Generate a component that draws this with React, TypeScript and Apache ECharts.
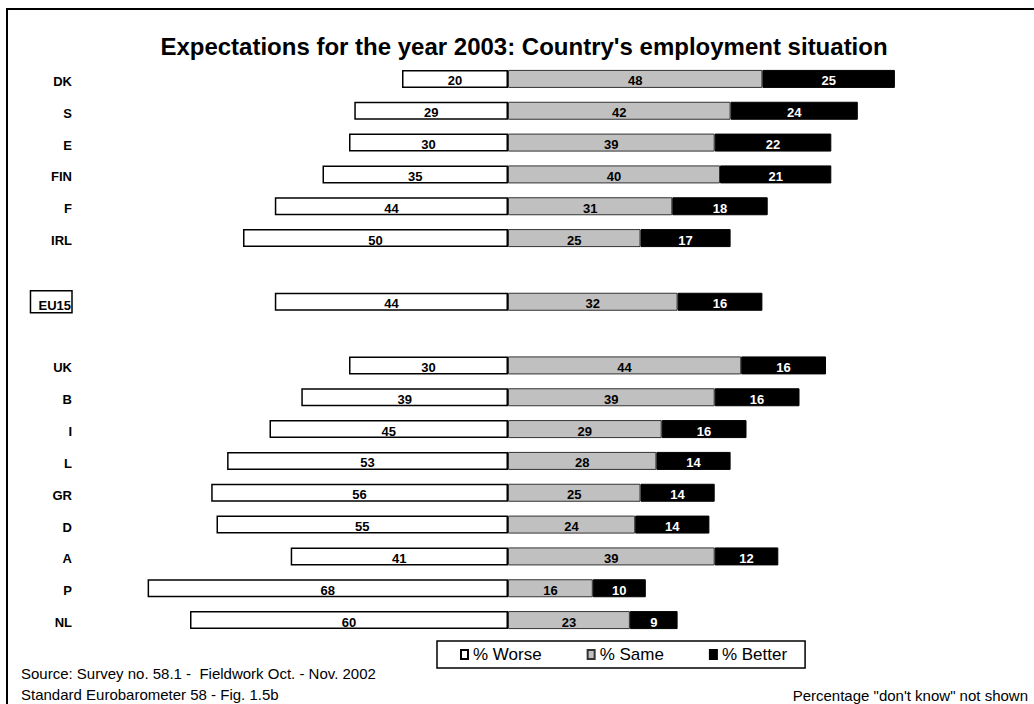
import React, { useEffect, useRef } from "react";
import * as echarts from "echarts";

const categories = ["DK", "S", "E", "FIN", "F", "IRL", "", "EU15", "", "UK", "B", "I", "L", "GR", "D", "A", "P", "NL"];
const worse = [20, 29, 30, 35, 44, 50, null, 44, null, 30, 39, 45, 53, 56, 55, 41, 68, 60];
const same = [48, 42, 39, 40, 31, 25, null, 32, null, 44, 39, 29, 28, 25, 24, 39, 16, 23];
const better = [25, 24, 22, 21, 18, 17, null, 16, null, 16, 16, 16, 14, 14, 14, 12, 10, 9];
const seriesNames = ["% Worse", "% Same", "% Better"];

const titleText = "Expectations for the year 2003: Country's employment situation";
const sourceText = "Source: Survey no. 58.1 -  Fieldwork Oct. - Nov. 2002";
const figText = "Standard Eurobarometer 58 - Fig. 1.5b";
const noteText = 'Percentage "don\'t know" not shown';

const FONT = "'Liberation Sans', Arial, sans-serif";

export default function App() {
  const ref = useRef<HTMLDivElement>(null);
  useEffect(() => {
    if (!ref.current) return;
    const chart = echarts.init(ref.current, null, { renderer: "svg" });
    const valueLabel = (color: string) => ({
      show: true,
      position: "inside",
      color,
      fontWeight: "bold",
      fontSize: 13,
      fontFamily: FONT,
      offset: [0, 2],
      formatter: (p: any) => (p.value == null ? "" : String(Math.abs(p.value))),
    });
    chart.setOption({
      animation: false,
      textStyle: { fontFamily: FONT },
      title: {
        text: titleText,
        left: 524,
        top: 34,
        padding: 0,
        textAlign: "center",
        textStyle: { fontSize: 24, fontWeight: "bold", color: "#000", fontFamily: FONT },
      },
      legend: {
        data: seriesNames,
        left: 437,
        top: 641,
        orient: "horizontal",
        icon: "rect",
        itemWidth: 7,
        itemHeight: 9,
        itemGap: 45,
        padding: [5, 18, 5, 23],
        borderColor: "#000",
        borderWidth: 1.5,
        borderRadius: 0,
        textStyle: { fontSize: 17, color: "#000", fontFamily: FONT },
      },
      grid: { left: 137, width: 795, top: 63, height: 573, containLabel: false },
      xAxis: {
        type: "value",
        min: -70,
        max: 80,
        show: false,
        splitLine: { show: false },
      },
      yAxis: {
        type: "category",
        data: categories,
        inverse: true,
        axisLine: { show: false },
        axisTick: { show: false },
        splitLine: { show: false },
        axisLabel: {
          margin: 65,
          color: "#000",
          fontWeight: "bold",
          fontSize: 13,
          fontFamily: FONT,
          formatter: (v: string) => (v === "EU15" ? `{box|${v}}` : `{n|${v}}`),
          rich: {
            n: {
              padding: [5, 0, 0, 0],
              fontWeight: "bold",
              fontSize: 13,
              color: "#000",
              fontFamily: FONT,
            },
            box: {
              borderColor: "#000",
              borderWidth: 1.5,
              padding: [8, 1, 1, 8],
              fontWeight: "bold",
              fontSize: 13,
              color: "#000",
              fontFamily: FONT,
            },
          },
        },
      },
      series: [
        {
          name: seriesNames[0],
          type: "bar",
          stack: "total",
          barWidth: 18,
          data: worse.map((v) => (v == null ? null : -v)),
          itemStyle: { color: "#ffffff", borderColor: "#000", borderWidth: 1.5 },
          label: valueLabel("#000"),
        },
        {
          name: seriesNames[1],
          type: "bar",
          stack: "total",
          barWidth: 18,
          data: same,
          itemStyle: { color: "#c0c0c0", borderColor: "#333", borderWidth: 1 },
          label: valueLabel("#000"),
        },
        {
          name: seriesNames[2],
          type: "bar",
          stack: "total",
          barWidth: 18,
          data: better,
          itemStyle: { color: "#000000", borderColor: "#000", borderWidth: 1 },
          label: valueLabel("#ffffff"),
        },
      ],
      graphic: [
        {
          type: "rect",
          shape: { x: 7, y: 9, width: 1200, height: 900 },
          style: { fill: "none", stroke: "#000", lineWidth: 2 },
          silent: true,
        },
        {
          type: "text",
          x: 21,
          y: 673,
          style: { text: sourceText, fontSize: 15, fill: "#000", fontFamily: FONT, textVerticalAlign: "middle" },
        },
        {
          type: "text",
          x: 21,
          y: 694,
          style: { text: figText, fontSize: 15, fill: "#000", fontFamily: FONT, textVerticalAlign: "middle" },
        },
        {
          type: "text",
          x: 1028,
          y: 695,
          style: { text: noteText, fontSize: 15, fill: "#000", fontFamily: FONT, textAlign: "right", textVerticalAlign: "middle" },
        },
      ],
    });
    return () => chart.dispose();
  }, []);
  return <div ref={ref} style={{ position: "absolute", left: 0, top: 0, width: 1034, height: 704, background: "#fff" }} />;
}
